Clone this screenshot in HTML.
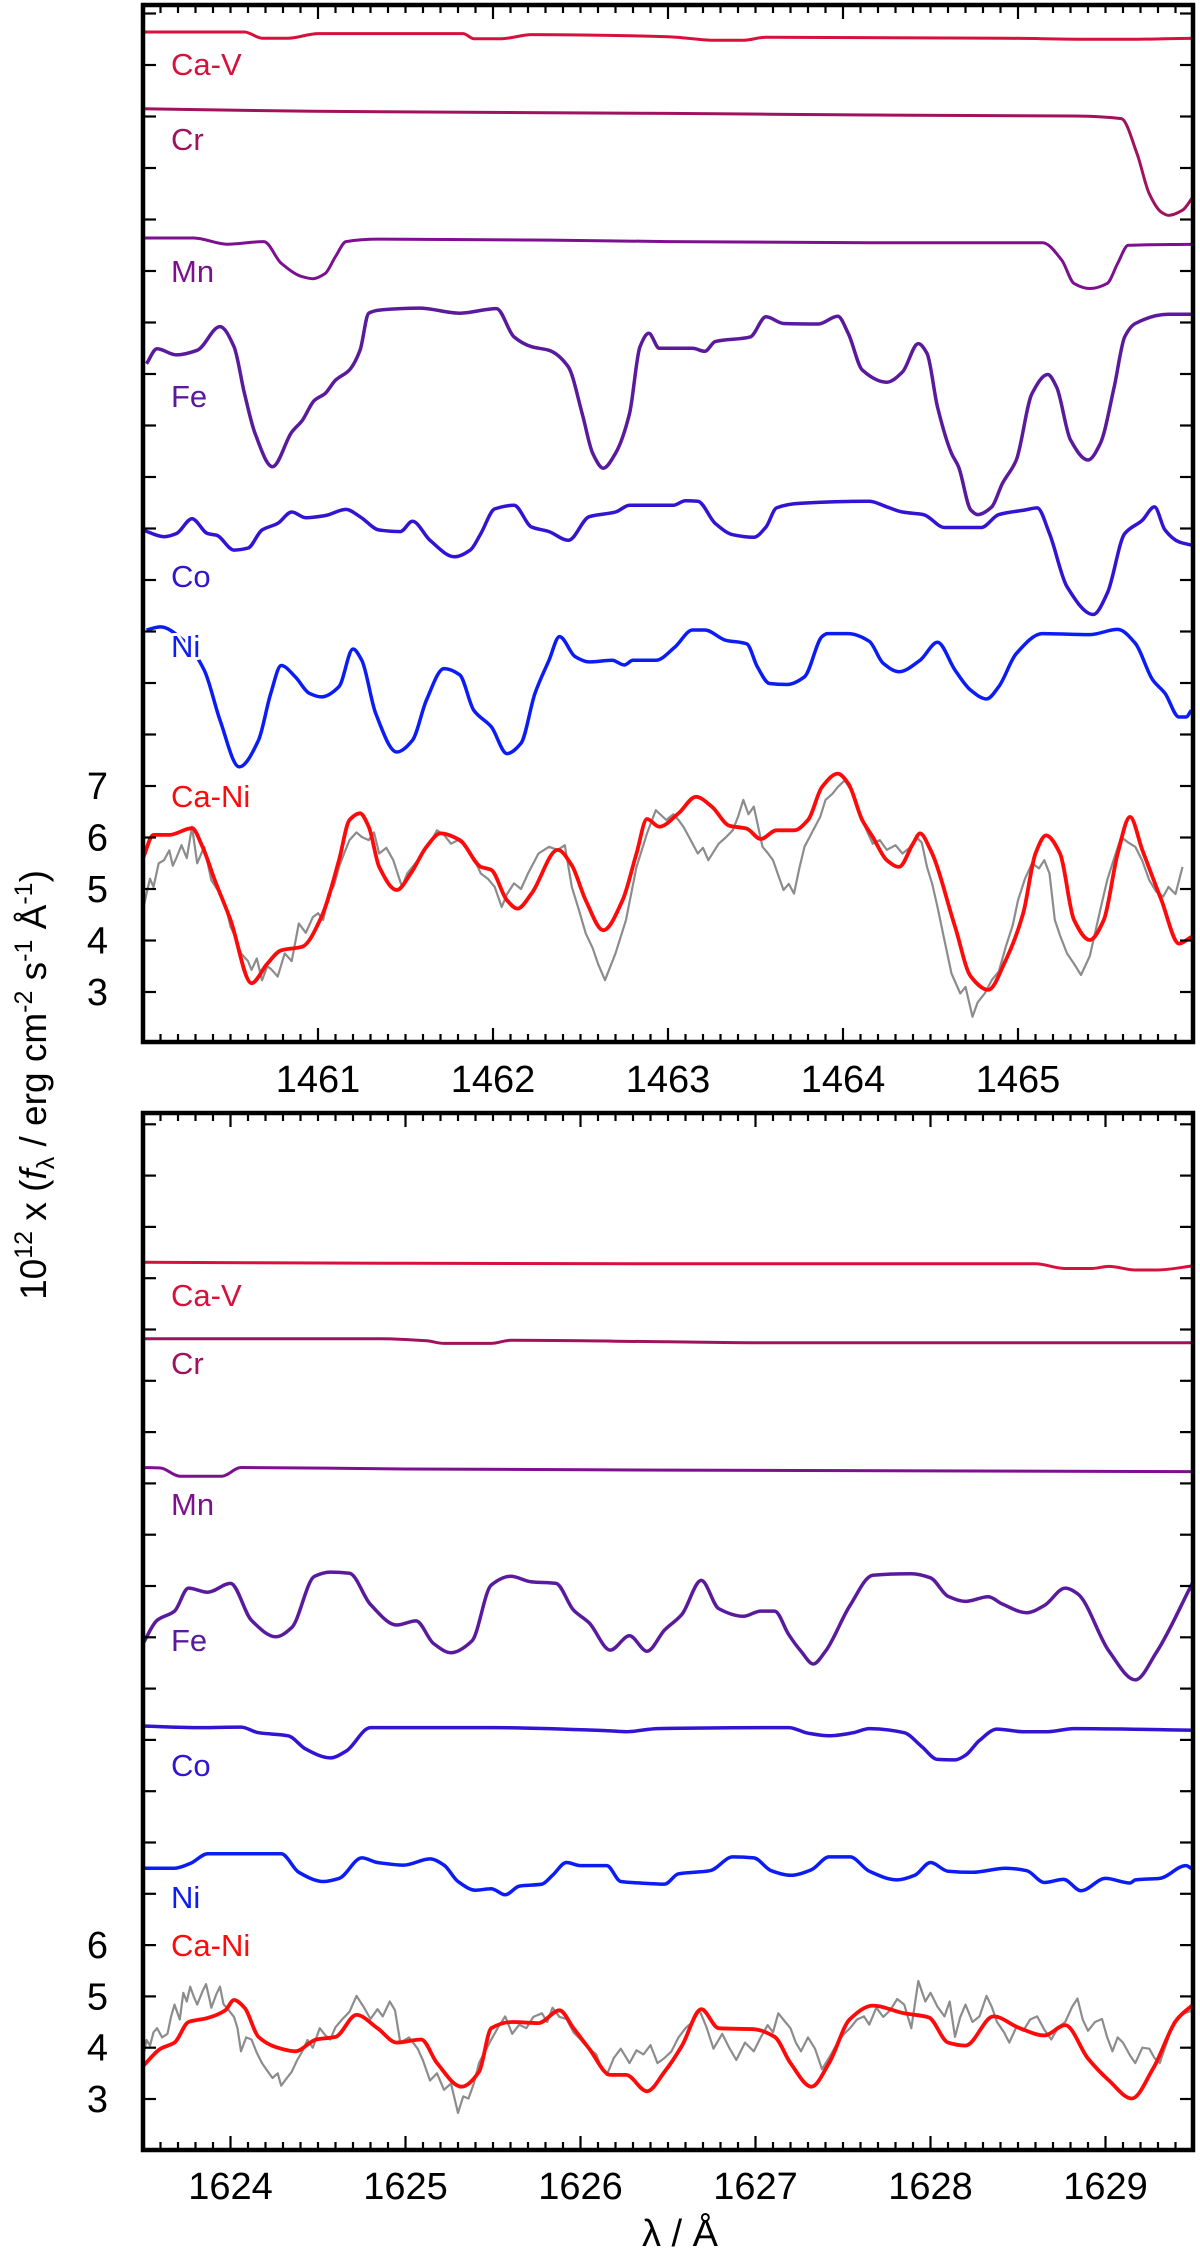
<!DOCTYPE html>
<html><head><meta charset="utf-8"><style>
html,body{margin:0;padding:0;background:#fff;}
svg{display:block;font-family:"Liberation Sans",Arial,sans-serif;}
</style></head><body>
<svg id="chart" width="1200" height="2258" viewBox="0 0 1200 2258"></svg>
<script>
// ---------- TOP PANEL DATA (1460-1466 A) ----------
const topCaV_x=[1460.00,1460.58,1460.68,1460.83,1461.00,1461.83,1461.89,1462.05,1462.22,1463.0,1463.27,1463.43,1463.56,1464.93,1465.42,1465.61,1466.0];
const topCaV_y=[21.64,21.64,21.52,21.52,21.61,21.61,21.51,21.51,21.59,21.55,21.48,21.48,21.54,21.52,21.50,21.50,21.52];
const topCr_x=[1460,1460.97,1463.0,1464.15,1465.32,1465.59,1465.68,1465.75,1465.82,1465.86,1465.94,1466.0];
const topCr_y=[20.15,20.10,20.06,20.03,20.01,19.96,19.28,18.50,18.14,18.08,18.18,18.44];
const topMn_x=[1460,1460.29,1460.48,1460.69,1460.79,1460.91,1460.97,1461.04,1461.10,1461.16,1461.35,1462.32,1463.0,1464.15,1465.14,1465.25,1465.32,1465.41,1465.51,1465.57,1465.63,1466.0];
const topMn_y=[17.64,17.64,17.52,17.57,17.15,16.89,16.85,16.95,17.28,17.57,17.62,17.60,17.57,17.55,17.55,17.21,16.76,16.66,16.76,17.15,17.50,17.52];
const topFe_x=[1460.02,1460.08,1460.19,1460.31,1460.44,1460.52,1460.58,1460.64,1460.74,1460.85,1460.91,1460.98,1461.04,1461.10,1461.18,1461.24,1461.29,1461.35,1461.58,1461.81,1462.02,1462.12,1462.22,1462.32,1462.43,1462.51,1462.57,1462.63,1462.70,1462.78,1462.84,1462.89,1462.95,1463.14,1463.21,1463.27,1463.47,1463.56,1463.66,1463.86,1463.97,1464.03,1464.11,1464.25,1464.34,1464.43,1464.48,1464.54,1464.62,1464.66,1464.73,1464.77,1464.85,1464.91,1464.99,1465.08,1465.17,1465.22,1465.30,1465.40,1465.47,1465.55,1465.61,1465.67,1465.86,1465.99];
const topFe_y=[15.20,15.49,15.37,15.46,15.92,15.53,14.62,13.85,13.20,13.87,14.10,14.49,14.62,14.88,15.08,15.46,16.18,16.24,16.28,16.18,16.27,15.72,15.53,15.46,15.14,14.23,13.46,13.17,13.46,14.23,15.53,15.79,15.50,15.50,15.44,15.63,15.72,16.11,15.98,15.97,16.12,15.79,15.08,14.84,15.04,15.59,15.40,14.36,13.46,13.20,12.36,12.27,12.42,12.87,13.33,14.62,14.99,14.75,13.72,13.33,13.65,14.75,15.72,15.98,16.16,16.16];
const topCo_x=[1460.00,1460.12,1460.19,1460.28,1460.37,1460.42,1460.52,1460.60,1460.68,1460.77,1460.85,1460.93,1461.04,1461.16,1461.24,1461.35,1461.47,1461.54,1461.64,1461.78,1461.87,1461.93,1462.01,1462.12,1462.22,1462.32,1462.43,1462.55,1462.70,1462.78,1463.03,1463.10,1463.17,1463.27,1463.37,1463.49,1463.56,1463.62,1463.76,1464.15,1464.25,1464.34,1464.46,1464.58,1464.79,1464.89,1465.04,1465.11,1465.18,1465.28,1465.43,1465.51,1465.61,1465.71,1465.78,1465.84,1465.92,1465.99];
const topCo_y=[11.97,11.84,11.90,12.19,11.90,11.87,11.58,11.62,11.97,12.10,12.32,12.21,12.25,12.37,12.23,11.97,11.94,12.14,11.77,11.45,11.58,11.90,12.38,12.45,12.03,11.94,11.77,12.23,12.32,12.45,12.45,12.54,12.53,12.10,11.88,11.83,12.03,12.40,12.49,12.53,12.42,12.32,12.27,12.02,12.02,12.27,12.36,12.40,11.90,10.87,10.33,10.74,11.90,12.16,12.42,11.97,11.74,11.68];
const topNi_x=[1460.02,1460.10,1460.23,1460.35,1460.44,1460.55,1460.66,1460.73,1460.79,1460.87,1460.95,1461.02,1461.12,1461.20,1461.25,1461.33,1461.45,1461.54,1461.62,1461.72,1461.81,1461.89,1461.99,1462.08,1462.16,1462.24,1462.32,1462.38,1462.47,1462.55,1462.68,1462.75,1462.80,1462.93,1463.04,1463.14,1463.21,1463.33,1463.45,1463.51,1463.58,1463.68,1463.78,1463.88,1463.91,1464.03,1464.15,1464.23,1464.32,1464.44,1464.54,1464.64,1464.73,1464.82,1464.89,1464.99,1465.14,1465.41,1465.57,1465.67,1465.77,1465.84,1465.92,1465.96,1465.99];
const topNi_y=[10.03,10.09,9.83,9.25,8.28,7.37,7.89,8.80,9.34,9.12,8.80,8.73,8.93,9.66,9.44,8.41,7.66,7.89,8.67,9.28,9.16,8.47,8.15,7.63,7.83,8.80,9.44,9.90,9.51,9.41,9.44,9.35,9.44,9.44,9.70,10.03,10.03,9.83,9.76,9.32,8.99,8.97,9.12,9.90,9.96,9.96,9.81,9.38,9.22,9.44,9.79,9.25,8.86,8.69,8.93,9.57,9.96,9.94,10.04,9.77,9.06,8.80,8.34,8.34,8.47];
const topModel_x=[1460.00,1460.06,1460.15,1460.28,1460.34,1460.41,1460.50,1460.62,1460.71,1460.79,1460.91,1461.02,1461.12,1461.18,1461.24,1461.29,1461.35,1461.45,1461.53,1461.62,1461.70,1461.81,1461.93,1461.99,1462.08,1462.14,1462.22,1462.37,1462.45,1462.53,1462.63,1462.74,1462.82,1462.88,1462.95,1463.06,1463.16,1463.25,1463.35,1463.45,1463.53,1463.62,1463.72,1463.80,1463.88,1463.97,1464.03,1464.11,1464.17,1464.25,1464.32,1464.40,1464.44,1464.50,1464.64,1464.73,1464.83,1464.93,1465.03,1465.10,1465.16,1465.24,1465.32,1465.41,1465.49,1465.57,1465.64,1465.71,1465.82,1465.92,1465.99];
const topModel_y=[5.60,6.05,6.05,6.18,5.82,5.17,4.40,3.17,3.55,3.81,3.88,4.46,5.56,6.34,6.47,6.21,5.43,4.98,5.30,5.82,6.08,5.95,5.43,5.37,4.78,4.62,4.91,5.76,5.46,4.78,4.20,4.78,5.69,6.36,6.21,6.47,6.79,6.60,6.23,6.17,5.97,6.14,6.14,6.34,6.98,7.24,7.05,6.34,6.01,5.56,5.43,5.88,6.08,5.76,4.27,3.30,3.04,3.62,4.53,5.69,6.04,5.69,4.40,4.01,4.40,5.69,6.40,5.76,4.78,3.94,4.07];
const topObs_x=[1460.00,1460.02,1460.04,1460.06,1460.09,1460.12,1460.15,1460.17,1460.19,1460.22,1460.25,1460.28,1460.31,1460.35,1460.39,1460.44,1460.47,1460.50,1460.53,1460.56,1460.60,1460.62,1460.65,1460.68,1460.71,1460.73,1460.77,1460.81,1460.85,1460.89,1460.93,1460.97,1461.00,1461.03,1461.06,1461.09,1461.12,1461.15,1461.18,1461.22,1461.25,1461.29,1461.32,1461.35,1461.39,1461.43,1461.48,1461.51,1461.54,1461.58,1461.62,1461.65,1461.68,1461.72,1461.76,1461.80,1461.85,1461.89,1461.93,1461.97,1462.01,1462.05,1462.08,1462.12,1462.16,1462.20,1462.26,1462.32,1462.37,1462.41,1462.45,1462.49,1462.53,1462.57,1462.60,1462.64,1462.70,1462.76,1462.82,1462.85,1462.88,1462.93,1462.99,1463.03,1463.06,1463.09,1463.12,1463.17,1463.20,1463.23,1463.29,1463.33,1463.37,1463.40,1463.43,1463.46,1463.49,1463.54,1463.57,1463.60,1463.66,1463.69,1463.72,1463.75,1463.78,1463.84,1463.87,1463.90,1463.94,1463.97,1464.01,1464.04,1464.07,1464.11,1464.14,1464.17,1464.21,1464.25,1464.30,1464.34,1464.38,1464.42,1464.45,1464.48,1464.51,1464.54,1464.58,1464.62,1464.67,1464.70,1464.74,1464.77,1464.81,1464.85,1464.89,1464.93,1464.97,1465.00,1465.04,1465.08,1465.12,1465.15,1465.18,1465.21,1465.24,1465.28,1465.32,1465.36,1465.41,1465.44,1465.47,1465.51,1465.55,1465.59,1465.63,1465.67,1465.71,1465.75,1465.79,1465.83,1465.86,1465.90,1465.94,1465.99];
const topObs_y=[4.60,4.91,5.20,5.04,5.50,5.56,5.75,5.45,5.60,5.85,5.60,6.21,5.50,5.82,5.17,4.91,4.70,4.27,4.05,3.75,3.60,3.43,3.65,3.23,3.50,3.45,3.30,3.75,3.60,4.33,4.15,4.45,4.53,4.40,4.91,5.05,5.43,5.70,5.95,6.10,6.01,5.95,6.10,5.69,5.80,5.56,5.04,5.30,5.43,5.60,5.82,5.95,6.14,6.05,5.88,5.95,5.82,5.60,5.30,5.20,5.04,4.65,4.90,5.11,5.00,5.30,5.69,5.82,5.76,5.85,5.04,4.60,4.14,3.85,3.55,3.23,3.75,4.40,5.43,5.75,6.08,6.53,6.34,6.45,6.34,6.20,6.01,5.69,5.80,5.56,5.88,6.00,6.14,6.40,6.73,6.45,6.60,5.82,5.70,5.56,4.98,5.10,4.91,5.40,5.82,6.21,6.40,6.73,6.85,6.98,7.11,6.95,6.73,6.34,6.10,5.88,5.95,5.76,5.85,5.69,5.80,6.01,5.90,5.43,5.10,4.65,4.00,3.36,2.97,3.10,2.52,2.80,2.97,3.23,3.40,3.88,4.30,4.78,5.20,5.50,5.40,5.56,5.30,4.40,4.10,3.75,3.55,3.33,3.70,4.14,4.60,5.17,5.60,6.01,5.90,5.82,5.55,5.17,4.95,4.85,5.04,4.90,5.43];

// ---------- BOTTOM PANEL DATA (1623.5-1629.5 A) ----------
const botCaV_x=[1623.5,1625.0,1626.5,1628.6,1628.77,1628.92,1629.02,1629.17,1629.29,1629.5];
const botCaV_y=[19.31,19.29,19.28,19.28,19.19,19.19,19.23,19.16,19.16,19.24];
const botCr_x=[1623.5,1624.85,1625.12,1625.22,1625.49,1625.60,1626.5,1627.1,1629.5];
const botCr_y=[17.82,17.82,17.78,17.73,17.73,17.79,17.76,17.74,17.74];
const botMn_x=[1623.5,1623.60,1623.71,1623.95,1624.06,1625.0,1626.5,1629.5];
const botMn_y=[15.31,15.30,15.14,15.14,15.31,15.28,15.26,15.23];
const botFe_x=[1623.50,1623.58,1623.68,1623.76,1623.87,1624.00,1624.12,1624.26,1624.35,1624.48,1624.57,1624.68,1624.80,1624.95,1625.06,1625.16,1625.26,1625.38,1625.49,1625.60,1625.72,1625.86,1625.96,1626.05,1626.17,1626.28,1626.38,1626.48,1626.58,1626.69,1626.79,1626.93,1627.03,1627.11,1627.19,1627.26,1627.33,1627.40,1627.54,1627.67,1627.89,1628.00,1628.10,1628.20,1628.33,1628.41,1628.55,1628.65,1628.77,1628.84,1629.02,1629.17,1629.29,1629.50];
const botFe_y=[11.88,12.33,12.51,12.96,12.88,13.05,12.33,12.01,12.19,13.19,13.27,13.25,12.64,12.24,12.32,11.88,11.70,11.93,13.02,13.19,13.08,13.05,12.53,12.28,11.75,12.03,11.73,12.14,12.45,13.11,12.56,12.41,12.51,12.51,12.05,11.73,11.48,11.73,12.62,13.21,13.24,13.16,12.80,12.70,12.79,12.65,12.48,12.62,12.96,12.85,11.73,11.17,11.70,13.08];
const botCo_x=[1623.50,1623.83,1624.06,1624.16,1624.33,1624.43,1624.57,1624.66,1624.80,1625.50,1626.15,1626.26,1626.44,1627.19,1627.30,1627.42,1627.56,1627.65,1627.85,1627.95,1628.04,1628.14,1628.20,1628.28,1628.38,1628.53,1628.67,1628.82,1629.50];
const botCo_y=[10.27,10.24,10.25,10.14,10.08,9.82,9.65,9.78,10.24,10.24,10.18,10.16,10.22,10.24,10.13,10.08,10.14,10.22,10.14,9.87,9.62,9.61,9.70,9.99,10.21,10.16,10.16,10.22,10.19];
const botNi_x=[1623.50,1623.68,1623.77,1623.87,1624.29,1624.39,1624.53,1624.62,1624.75,1624.84,1624.99,1625.14,1625.22,1625.30,1625.40,1625.49,1625.57,1625.65,1625.78,1625.84,1625.92,1626.00,1626.15,1626.23,1626.34,1626.48,1626.56,1626.74,1626.87,1626.99,1627.09,1627.20,1627.32,1627.42,1627.54,1627.65,1627.81,1627.91,1628.00,1628.10,1628.24,1628.43,1628.55,1628.65,1628.76,1628.86,1629.00,1629.14,1629.17,1629.31,1629.46,1629.50];
const botNi_y=[7.50,7.50,7.59,7.78,7.78,7.42,7.24,7.30,7.70,7.61,7.56,7.68,7.56,7.24,7.07,7.10,6.98,7.15,7.19,7.36,7.61,7.55,7.55,7.24,7.21,7.19,7.39,7.45,7.72,7.70,7.45,7.36,7.47,7.72,7.72,7.44,7.27,7.36,7.61,7.44,7.42,7.50,7.45,7.22,7.28,7.06,7.30,7.21,7.27,7.30,7.55,7.47];
const botModel_x=[1623.50,1623.60,1623.68,1623.76,1623.87,1623.97,1624.02,1624.08,1624.16,1624.26,1624.37,1624.49,1624.60,1624.72,1624.84,1624.95,1625.09,1625.18,1625.32,1625.42,1625.49,1625.61,1625.76,1625.88,1625.96,1626.05,1626.17,1626.26,1626.38,1626.48,1626.58,1626.69,1626.79,1626.99,1627.11,1627.20,1627.32,1627.42,1627.54,1627.67,1627.85,1627.99,1628.10,1628.20,1628.36,1628.51,1628.65,1628.77,1628.90,1629.02,1629.15,1629.27,1629.41,1629.50];
const botModel_y=[3.64,3.98,4.10,4.50,4.58,4.73,4.93,4.78,4.21,4.01,3.93,4.16,4.21,4.64,4.38,4.10,4.16,3.70,3.24,3.53,4.38,4.50,4.48,4.73,4.38,3.98,3.47,3.47,3.15,3.53,4.04,4.75,4.38,4.36,4.21,3.70,3.24,3.70,4.56,4.82,4.67,4.59,4.10,4.04,4.61,4.38,4.24,4.44,3.79,3.36,3.01,3.58,4.56,4.84];
const botObs_x=[1623.50,1623.52,1623.54,1623.56,1623.58,1623.61,1623.64,1623.66,1623.68,1623.71,1623.73,1623.75,1623.77,1623.79,1623.81,1623.84,1623.86,1623.88,1623.89,1623.92,1623.94,1623.96,1623.99,1624.02,1624.04,1624.06,1624.09,1624.12,1624.15,1624.18,1624.21,1624.24,1624.27,1624.29,1624.32,1624.35,1624.38,1624.41,1624.44,1624.47,1624.51,1624.54,1624.57,1624.60,1624.64,1624.68,1624.72,1624.76,1624.80,1624.84,1624.87,1624.91,1624.94,1624.97,1625.02,1625.07,1625.10,1625.14,1625.18,1625.22,1625.26,1625.30,1625.33,1625.36,1625.39,1625.42,1625.45,1625.49,1625.53,1625.57,1625.61,1625.65,1625.69,1625.73,1625.78,1625.81,1625.84,1625.88,1625.92,1625.96,1626.00,1626.04,1626.09,1626.12,1626.15,1626.19,1626.23,1626.28,1626.32,1626.36,1626.40,1626.44,1626.48,1626.52,1626.56,1626.60,1626.64,1626.68,1626.72,1626.76,1626.81,1626.85,1626.89,1626.94,1626.99,1627.03,1627.07,1627.10,1627.13,1627.17,1627.20,1627.23,1627.26,1627.30,1627.34,1627.38,1627.42,1627.46,1627.50,1627.54,1627.58,1627.62,1627.65,1627.69,1627.73,1627.77,1627.81,1627.85,1627.89,1627.93,1627.97,1628.00,1628.04,1628.08,1628.11,1628.14,1628.17,1628.20,1628.24,1628.28,1628.32,1628.35,1628.38,1628.42,1628.45,1628.49,1628.53,1628.57,1628.61,1628.65,1628.69,1628.73,1628.77,1628.81,1628.84,1628.87,1628.90,1628.94,1628.98,1629.01,1629.04,1629.07,1629.10,1629.14,1629.17,1629.21,1629.25,1629.28,1629.31,1629.35,1629.39,1629.42,1629.45,1629.50];
const botObs_y=[3.81,4.15,4.04,4.30,4.38,4.20,4.27,4.60,4.84,4.55,5.07,4.90,5.19,5.00,4.84,5.10,5.24,4.95,4.78,5.05,5.19,4.85,4.73,4.60,4.38,3.93,4.20,4.16,3.90,3.70,3.55,3.41,3.50,3.26,3.40,3.53,3.75,3.93,4.15,4.00,4.38,4.25,4.16,4.40,4.56,4.70,5.01,4.80,4.56,4.75,4.61,4.90,4.73,4.10,4.20,3.98,3.75,3.36,3.50,3.18,3.30,2.73,3.05,3.01,3.30,3.70,3.90,4.16,4.40,4.61,4.27,4.45,4.38,4.60,4.67,4.50,4.78,4.60,4.56,4.30,4.16,4.00,3.87,3.60,3.47,3.80,3.98,3.70,3.95,3.87,4.05,3.70,3.80,3.93,4.20,4.38,4.50,4.73,4.40,3.98,4.27,4.00,3.76,4.10,3.93,4.20,4.44,4.30,4.67,4.50,4.38,4.10,3.93,4.20,3.98,3.58,3.80,4.04,4.25,4.38,4.55,4.61,4.45,4.78,4.60,4.73,4.95,4.84,4.38,5.30,4.90,5.07,4.80,4.61,4.90,4.21,4.60,4.84,4.50,4.61,5.01,4.80,4.50,4.30,4.10,4.40,4.33,4.55,4.61,4.35,4.16,4.40,4.50,4.80,4.96,4.55,4.33,4.50,4.56,4.20,3.93,4.20,4.10,3.85,3.70,4.00,3.98,3.80,3.70,4.10,4.50,4.60,4.67,4.73];

// tick labels
const topYLabels=[3,4,5,6,7];
const botYLabels=[3,4,5,6];
const topXLabels=[1461,1462,1463,1464,1465];
const botXLabels=[1624,1625,1626,1627,1628,1629];

const NS="http://www.w3.org/2000/svg";
const svg=document.getElementById('chart');
function el(tag,attrs,parent){const e=document.createElementNS(NS,tag);for(const k in attrs)e.setAttribute(k,attrs[k]);(parent||svg).appendChild(e);return e;}

const L=143,R=1193;
const panels=[
 {name:'top',x0:1460,x1:1466,top:5,bottom:1042,y3:992,unit:51.5,xl:topXLabels,yl:topYLabels,labY:1092},
 {name:'bottom',x0:1623.5,x1:1629.5,top:1113,bottom:2150,y3:2099,unit:51.3,xl:botXLabels,yl:botYLabels,labY:2199}
];
function sx(p,v){return L+(v-p.x0)/(p.x1-p.x0)*(R-L);}
function sy(p,v){return p.y3-(v-3)*p.unit;}

// monotone cubic (Fritsch-Carlson) in x
function smoothPath(p,xs,ys){
  const X=xs.map(v=>sx(p,v)),Y=ys.map(v=>sy(p,v)),n=X.length;
  const d=[],m=new Array(n);
  for(let i=0;i<n-1;i++)d.push((Y[i+1]-Y[i])/(X[i+1]-X[i]));
  m[0]=d[0];m[n-1]=d[n-2];
  for(let i=1;i<n-1;i++){
    if(d[i-1]*d[i]<=0)m[i]=0;
    else{const h0=X[i]-X[i-1],h1=X[i+1]-X[i];const w1=2*h1+h0,w2=h1+2*h0;m[i]=(w1+w2)/(w1/d[i-1]+w2/d[i]);}
  }
  let s='M'+X[0].toFixed(1)+','+Y[0].toFixed(1);
  for(let i=0;i<n-1;i++){
    const h=(X[i+1]-X[i])/3;
    s+='C'+(X[i]+h).toFixed(1)+','+(Y[i]+m[i]*h).toFixed(1)+' '+(X[i+1]-h).toFixed(1)+','+(Y[i+1]-m[i+1]*h).toFixed(1)+' '+X[i+1].toFixed(1)+','+Y[i+1].toFixed(1);
  }
  return s;
}
function linePath(p,xs,ys){return xs.map((x,i)=>(i?'L':'M')+sx(p,x).toFixed(1)+','+sy(p,ys[i]).toFixed(1)).join('');}

const colors={cav:'#d8103c',cr:'#a0125e',mn:'#7c108e',fe:'#5a1a9e',co:'#3214d2',ni:'#0c1cf4',model:'#ff0a0a',obs:'#8c8c8c'};

const series={
 top:[['ca-v',topCaV_x,topCaV_y,colors.cav,3],['cr',topCr_x,topCr_y,colors.cr,3],['mn',topMn_x,topMn_y,colors.mn,3],['fe',topFe_x,topFe_y,colors.fe,3.5],['co',topCo_x,topCo_y,colors.co,3.5],['ni',topNi_x,topNi_y,colors.ni,3.5]],
 bottom:[['ca-v',botCaV_x,botCaV_y,colors.cav,3],['cr',botCr_x,botCr_y,colors.cr,3],['mn',botMn_x,botMn_y,colors.mn,3],['fe',botFe_x,botFe_y,colors.fe,3.5],['co',botCo_x,botCo_y,colors.co,3.5],['ni',botNi_x,botNi_y,colors.ni,3.5]]
};
const obsData={top:[topObs_x,topObs_y],bottom:[botObs_x,botObs_y]};
const modelData={top:[topModel_x,topModel_y],bottom:[botModel_x,botModel_y]};
const labels={
 top:[['Ca-V',75,colors.cav],['Cr',150,colors.cr],['Mn',282,colors.mn],['Fe',407,colors.fe],['Co',587,colors.co],['Ni',657,colors.ni],['Ca-Ni',807,colors.model]],
 bottom:[['Ca-V',1306,colors.cav],['Cr',1374,colors.cr],['Mn',1515,colors.mn],['Fe',1651,colors.fe],['Co',1776,colors.co],['Ni',1908,colors.ni],['Ca-Ni',1956,colors.model]]
};

panels.forEach(p=>{
  const g=el('g',{});
  
  
  const clipId='clip-'+p.name;
  const cp=el('clipPath',{id:clipId},g);
  el('rect',{x:L,y:p.top,width:R-L,height:p.bottom-p.top},cp);
  const lines=el('g',{'clip-path':'url(#'+clipId+')'},g);
  const o=el('path',{d:linePath(p,obsData[p.name][0],obsData[p.name][1]),fill:'none',stroke:colors.obs,'stroke-width':2.2,'stroke-linejoin':'round'},lines);
  
  
  const m=el('path',{d:smoothPath(p,modelData[p.name][0],modelData[p.name][1]),fill:'none',stroke:colors.model,'stroke-width':3.8},lines);
  
  
  series[p.name].forEach(s=>{
    const e=el('path',{d:smoothPath(p,s[1],s[2]),fill:'none',stroke:s[3],'stroke-width':s[4]},lines);
    
    
  });
  labels[p.name].forEach(l=>{
    const t=el('text',{x:171,y:l[1],fill:l[2],'font-size':31,stroke:'#fff','stroke-width':6,'paint-order':'stroke','stroke-linejoin':'round'},g);
    t.textContent=l[0];
    
    
  });
  const ax=el('g',{stroke:'#000','stroke-width':2.2},g);
  
  
  const n=Math.round((p.x1-p.x0)*10);
  for(let i=1;i<n;i++){
    const v=p.x0+i/10;const major=Math.abs(v-Math.round(v))<1e-6;const len=major?14:8;const x=sx(p,v);
    el('line',{x1:x,x2:x,y1:p.bottom,y2:p.bottom-len},ax);
    el('line',{x1:x,x2:x,y1:p.top,y2:p.top+len},ax);
  }
  for(let v=3;sy(p,v)>p.top+3;v++){
    const y=sy(p,v);
    el('line',{x1:L,x2:L+13,y1:y,y2:y},ax);
    el('line',{x1:R,x2:R-13,y1:y,y2:y},ax);
  }
  p.xl.forEach(v=>{
    const t=el('text',{x:sx(p,v),y:p.labY,'font-size':38,'text-anchor':'middle',fill:'#000'},g);
    t.textContent=v;
    
    
  });
  p.yl.forEach(v=>{
    const t=el('text',{x:108,y:sy(p,v)+13,'font-size':38,'text-anchor':'end',fill:'#000'},g);
    t.textContent=v;
    
    
  });
  const fr=el('rect',{x:L,y:p.top,width:R-L,height:p.bottom-p.top,fill:'none',stroke:'#000','stroke-width':4.5},g);
  
  
});
</script>
<div style="position:absolute;left:0;top:0;width:1200px;height:2258px;pointer-events:none;">
<svg width="1200" height="2258" style="position:absolute;left:0;top:0;font-family:'Liberation Sans',Arial,sans-serif;">
 <text transform="translate(46,1085) rotate(-90)" text-anchor="middle" font-size="37" fill="#000">10<tspan dy="-14" font-size="25">12</tspan><tspan dy="14"> x (</tspan><tspan font-style="italic">f</tspan><tspan dy="8" font-size="25">λ</tspan><tspan dy="-8"> / erg cm</tspan><tspan dy="-14" font-size="25">-2</tspan><tspan dy="14"> s</tspan><tspan dy="-14" font-size="25">-1</tspan><tspan dy="14"> Å</tspan><tspan dy="-14" font-size="25">-1</tspan><tspan dy="14">)</tspan></text>
 <text x="680" y="2246" text-anchor="middle" font-size="38" fill="#000">λ / Å</text>
</svg>
</div>
</body></html>
